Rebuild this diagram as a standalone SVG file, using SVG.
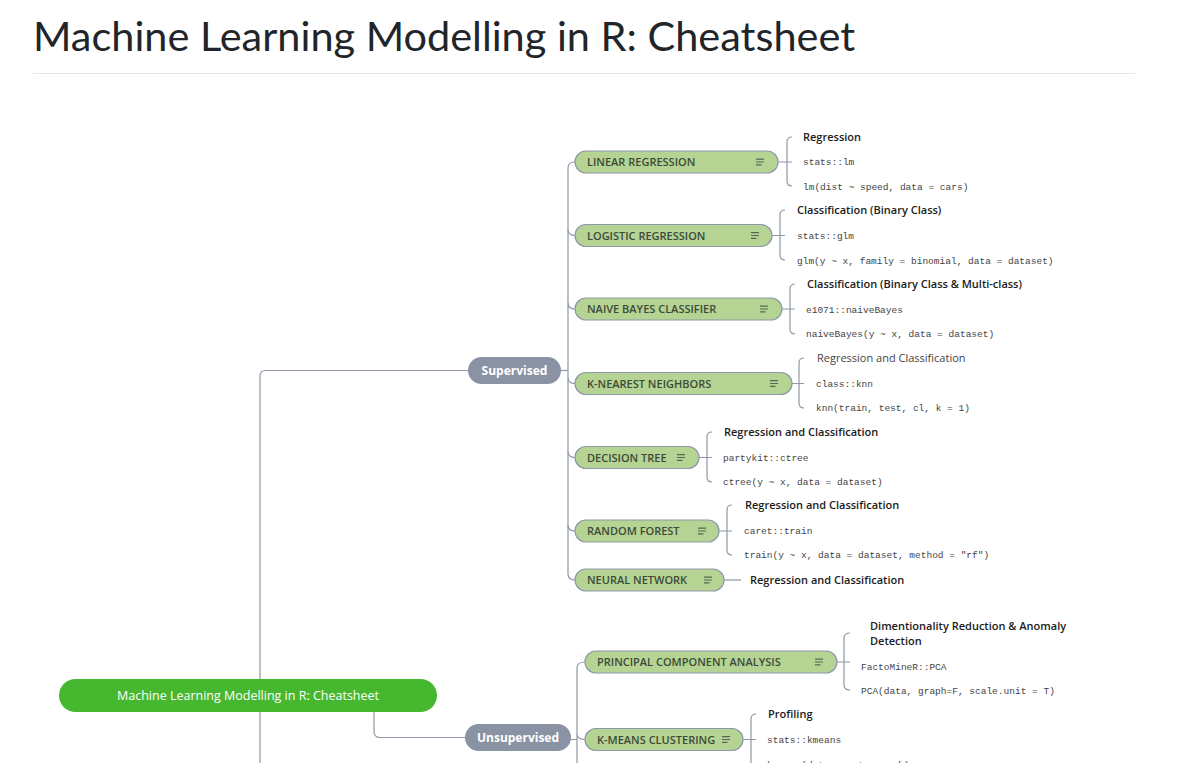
<svg xmlns="http://www.w3.org/2000/svg" width="1181" height="763" viewBox="0 0 1181 763">
<style>
.ln{fill:none;stroke:#8e98a8;stroke-width:1.2}
.nd{fill:#b5d493;stroke:#8e98a8;stroke-width:1.2}
.nt{font-family:"Open Sans","Liberation Sans",sans-serif;font-size:11px;font-weight:600;fill:#3d4a3a}
.ic{stroke:#5b6656;stroke-width:1.2;fill:none}
.lb{font-family:"Open Sans","Liberation Sans",sans-serif;font-size:11px;font-weight:600;fill:#1b1b1b}
.lb2{font-family:"Open Sans","Liberation Sans",sans-serif;font-size:11px;font-weight:400;fill:#444}
.cd{font-family:"Liberation Mono","DejaVu Sans Mono",monospace;font-size:9.5px;fill:#444}
.gn{fill:#8a93a4}
.gt{font-family:"Open Sans","Liberation Sans",sans-serif;font-size:12px;font-weight:700;fill:#fff;text-anchor:middle}
</style>
<defs>
<path id="menu" d="M0,-2.8h8M0,0h8M0,2.8h5.5"/>
</defs>
<rect width="1181" height="763" fill="#fff"/>
<text x="33" y="51" font-family="Lato,'Open Sans',sans-serif" font-size="40" fill="#212529" textLength="822" lengthAdjust="spacingAndGlyphs">Machine Learning Modelling in R: Cheatsheet</text>
<line x1="33" y1="73.5" x2="1135" y2="73.5" stroke="#e6e6e6" stroke-width="1"/>

<g id="connectors">
<path class="ln" d="M260,763V376Q260,370.5 266,370.5H468"/>
<path class="ln" d="M374,712V731Q374,737.5 380,737.5H465"/>
<path class="ln" d="M561,370.5H568"/>
<path class="ln" d="M575,162Q568,162 568,168V574Q568,580 575,580"/>
<path class="ln" d="M568,229.5Q568,235.5 575,235.5M568,303Q568,309 575,309M568,377.5Q568,383.5 575,383.5M568,451.5Q568,457.5 575,457.5M568,525Q568,531 575,531"/>
<path class="ln" d="M571,739.5H577M585,662Q577,662 577,668V763M577,733.5Q577,739.5 585,739.5"/>
<path class="ln" d="M778,162H792M792,137Q787,137 787,142V181Q787,186 792,186"/>
<path class="ln" d="M772,235.5H785M785,210Q780,210 780,215V255Q780,260 785,260"/>
<path class="ln" d="M782,309H795M795,284Q790,284 790,289V329Q790,334 795,334"/>
<path class="ln" d="M792,383.5H804M804,358Q799,358 799,363V403Q799,408 804,408"/>
<path class="ln" d="M699,457.5H712M712,432Q707,432 707,437V477Q707,482 712,482"/>
<path class="ln" d="M719,531H732M732,505Q727,505 727,510V550Q727,555 732,555"/>
<path class="ln" d="M724,580H741"/>
<path class="ln" d="M837,662H850M850,633Q844,633 844,638V685Q844,690 850,690"/>
<path class="ln" d="M743,739.5H756M756,714Q751,714 751,719V763"/>
</g>

<g id="root">
<rect x="59" y="679" width="378" height="33" rx="16.5" fill="#46b82f"/>
<text x="248" y="699.5" text-anchor="middle" font-family="'Open Sans','Liberation Sans',sans-serif" font-size="12.5" fill="#fff">Machine Learning Modelling in R: Cheatsheet</text>
</g>

<g id="supervised">
<rect class="gn" x="468" y="357" width="93" height="27" rx="13.5"/>
<text class="gt" x="514.5" y="375">Supervised</text>
</g>
<g id="unsupervised">
<rect class="gn" x="465" y="724" width="106" height="27" rx="13.5"/>
<text class="gt" x="518" y="742">Unsupervised</text>
</g>

<g id="linear-regression">
<rect class="nd" x="575" y="151" width="203" height="22" rx="11"/>
<text class="nt" x="587" y="166">LINEAR REGRESSION</text>
<use href="#menu" class="ic" x="756" y="162"/>
<text class="lb" x="803" y="141">Regression</text>
<text class="cd" x="803" y="165">stats::lm</text>
<text class="cd" x="803" y="190">lm(dist ~ speed, data = cars)</text>
</g>

<g id="logistic-regression">
<rect class="nd" x="575" y="224.5" width="197" height="22" rx="11"/>
<text class="nt" x="587" y="239.5">LOGISTIC REGRESSION</text>
<use href="#menu" class="ic" x="751" y="235.5"/>
<text class="lb" x="797" y="214">Classification (Binary Class)</text>
<text class="cd" x="797" y="239">stats::glm</text>
<text class="cd" x="797" y="264">glm(y ~ x, family = binomial, data = dataset)</text>
</g>

<g id="naive-bayes">
<rect class="nd" x="575" y="298" width="207" height="22" rx="11"/>
<text class="nt" x="587" y="313">NAIVE BAYES CLASSIFIER</text>
<use href="#menu" class="ic" x="760" y="309"/>
<text class="lb" x="807" y="288">Classification (Binary Class &amp; Multi-class)</text>
<text class="cd" x="806" y="313">e1071::naiveBayes</text>
<text class="cd" x="806" y="337">naiveBayes(y ~ x, data = dataset)</text>
</g>

<g id="knn">
<rect class="nd" x="575" y="372.5" width="217" height="22" rx="11"/>
<text class="nt" x="587" y="387.5">K-NEAREST NEIGHBORS</text>
<use href="#menu" class="ic" x="770" y="383.5"/>
<text class="lb2" x="817" y="362">Regression and Classification</text>
<text class="cd" x="816" y="387">class::knn</text>
<text class="cd" x="816" y="411">knn(train, test, cl, k = 1)</text>
</g>

<g id="decision-tree">
<rect class="nd" x="575" y="446.5" width="124" height="22" rx="11"/>
<text class="nt" x="587" y="461.5">DECISION TREE</text>
<use href="#menu" class="ic" x="677" y="457.5"/>
<text class="lb" x="724" y="436">Regression and Classification</text>
<text class="cd" x="723" y="461">partykit::ctree</text>
<text class="cd" x="723" y="485">ctree(y ~ x, data = dataset)</text>
</g>

<g id="random-forest">
<rect class="nd" x="575" y="520" width="144" height="22" rx="11"/>
<text class="nt" x="587" y="535">RANDOM FOREST</text>
<use href="#menu" class="ic" x="698" y="531"/>
<text class="lb" x="745" y="509">Regression and Classification</text>
<text class="cd" x="744" y="534">caret::train</text>
<text class="cd" x="744" y="558">train(y ~ x, data = dataset, method = "rf")</text>
</g>

<g id="neural-network">
<rect class="nd" x="575" y="569" width="149" height="22" rx="11"/>
<text class="nt" x="587" y="584">NEURAL NETWORK</text>
<use href="#menu" class="ic" x="704" y="580"/>
<text class="lb" x="750" y="583.5">Regression and Classification</text>
</g>

<g id="pca">
<rect class="nd" x="585" y="651" width="252" height="22" rx="11"/>
<text class="nt" x="597" y="666">PRINCIPAL COMPONENT ANALYSIS</text>
<use href="#menu" class="ic" x="815" y="662"/>
<text class="lb" x="870" y="630">Dimentionality Reduction &amp; Anomaly</text>
<text class="lb" x="870" y="645">Detection</text>
<text class="cd" x="861" y="670">FactoMineR::PCA</text>
<text class="cd" x="861" y="694">PCA(data, graph=F, scale.unit = T)</text>
</g>

<g id="kmeans">
<rect class="nd" x="585" y="728.5" width="158" height="22" rx="11"/>
<text class="nt" x="597" y="743.5">K-MEANS CLUSTERING</text>
<use href="#menu" class="ic" x="722" y="739.5"/>
<text class="lb" x="768" y="718">Profiling</text>
<text class="cd" x="767" y="743">stats::kmeans</text>
<text class="cd" x="767" y="768">kmeans(data, centers = k)</text>
</g>
</svg>
